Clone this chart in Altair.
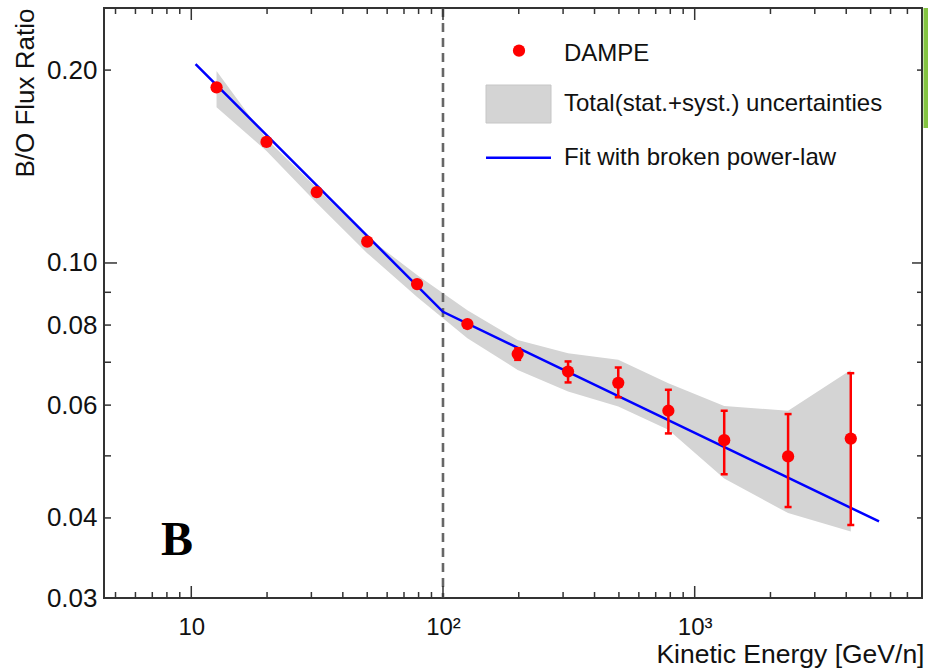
import altair as alt
import pandas as pd

# DAMPE B/O flux ratio measurements
energy = [12.6, 19.9, 31.5, 50.0, 78.9, 125, 198, 314, 497, 786, 1310, 2350, 4170]
ratio = [0.188, 0.1545, 0.129, 0.108, 0.0927, 0.0803, 0.0721, 0.0677, 0.065,
         0.0588, 0.0529, 0.0499, 0.0532]
err_low = [0.1865, 0.1532, 0.128, 0.1072, 0.0920, 0.0797, 0.0706, 0.0651, 0.0617,
           0.0542, 0.0468, 0.0416, 0.0390]
err_high = [0.1895, 0.1558, 0.130, 0.1088, 0.0934, 0.0809, 0.0736, 0.0702, 0.0687,
            0.0634, 0.0588, 0.0581, 0.0673]

# total (stat.+syst.) uncertainty band
band_low = [0.1750, 0.1495, 0.1240, 0.1036, 0.0885, 0.0763, 0.0681, 0.0630, 0.0597,
            0.0549, 0.0461, 0.0407, 0.0381]
band_high = [0.1993, 0.1561, 0.1309, 0.1098, 0.0958, 0.0844, 0.0758, 0.0723, 0.0706,
             0.0649, 0.0598, 0.0588, 0.0681]

# broken power-law fit
fit_energy = [10.4, 100, 5400]
fit_ratio = [0.2044, 0.0839, 0.0395]
break_energy = [100]

# axis ticks and labels
x_label_values = [10, 100, 1000]
x_major_ticks = [10, 100, 1000]
x_minor_ticks = [5, 6, 7, 8, 9, 20, 30, 40, 50, 60, 70, 80, 90,
                 200, 300, 400, 500, 600, 700, 800, 900,
                 2000, 3000, 4000, 5000, 6000, 7000]
y_label_values = [0.03, 0.04, 0.06, 0.08, 0.10, 0.20]
y_major_ticks = [0.10]
y_minor_ticks = [0.04, 0.05, 0.06, 0.07, 0.08, 0.09, 0.20]

legend_labels = ["DAMPE", "Total(stat.+syst.) uncertainties", "Fit with broken power-law"]
panel_label = "B"

W, H = 818, 590
FONT = "Liberation Sans"
TEXT = "#111111"
FRAME = "#333333"

data = pd.DataFrame({"energy": energy, "ratio": ratio, "lo": err_low, "hi": err_high,
                     "band_lo": band_low, "band_hi": band_high})
fit = pd.DataFrame({"energy": fit_energy, "ratio": fit_ratio})
brk = pd.DataFrame({"energy": break_energy})
one = pd.DataFrame({"k": [0]})

x_scale = alt.Scale(type="log", domain=[4.5, 8000], nice=False)
y_scale = alt.Scale(type="log", domain=[0.03, 0.25], nice=False, zero=False)

x_axis = alt.Axis(
    values=x_label_values,
    labelExpr="datum.value == 10 ? '10' : (datum.value == 100 ? '10²' : '10³')",
    ticks=False, domain=False, grid=False, labelFlush=False,
    labelFont=FONT, labelFontSize=24, labelColor=TEXT, labelPadding=17,
    title="Kinetic Energy [GeV/n]", titleFont=FONT, titleFontSize=26.5,
    titleFontWeight="normal", titleColor=TEXT,
    titleX=820, titleY=64, titleAlign="right", titleBaseline="alphabetic",
)
y_axis = alt.Axis(
    values=y_label_values, format=".2f",
    ticks=False, domain=False, grid=False, labelFlush=False,
    labelFont=FONT, labelFontSize=26, labelColor=TEXT, labelPadding=7,
    title="B/O Flux Ratio", titleFont=FONT, titleFontSize=26,
    titleFontWeight="normal", titleColor=TEXT,
    titleX=-79, titleY=0, titleAngle=270, titleAlign="right", titleBaseline="middle",
)


def X(field="energy"):
    return alt.X(f"{field}:Q", scale=x_scale, axis=x_axis)


def Y(field):
    return alt.Y(f"{field}:Q", scale=y_scale, axis=y_axis)


base = alt.Chart(data)

band = base.mark_area(color="#d4d4d4", opacity=1, interpolate="linear").encode(
    x=X(), y=Y("band_lo"), y2="band_hi:Q",
)

break_line = alt.Chart(brk).mark_rule(
    color="#666666", strokeWidth=2.6, strokeDash=[9, 6]
).encode(x=X(), y=alt.value(0), y2=alt.value(H))

fit_line = alt.Chart(fit).mark_line(color="#0000ff", strokeWidth=2.5).encode(
    x=X(), y=Y("ratio"),
)

err_bars = base.mark_rule(color="#ff0000", strokeWidth=2.5).encode(
    x=X(), y=Y("lo"), y2="hi:Q",
)
cap_lo = base.mark_tick(color="#ff0000", orient="horizontal", size=7, thickness=2.5,
                        opacity=1).encode(x=X(), y=Y("lo"))
cap_hi = base.mark_tick(color="#ff0000", orient="horizontal", size=7, thickness=2.5,
                        opacity=1).encode(x=X(), y=Y("hi"))
points = base.mark_circle(color="#ff0000", size=150, opacity=1).encode(
    x=X(), y=Y("ratio"),
)


# inward-pointing frame ticks
def x_ticks(values, length):
    df = pd.DataFrame({"energy": values})
    bottom = alt.Chart(df).mark_rule(color=FRAME, strokeWidth=1.5).encode(
        x=X(), y=alt.value(H), y2=alt.value(H - length),
    )
    top = alt.Chart(df).mark_rule(color=FRAME, strokeWidth=1.5).encode(
        x=X(), y=alt.value(0), y2=alt.value(length),
    )
    return [bottom, top]


def y_ticks(values, length, right_length):
    df = pd.DataFrame({"ratio": values})
    left = alt.Chart(df).mark_rule(color=FRAME, strokeWidth=1.5).encode(
        y=Y("ratio"), x=alt.value(0), x2=alt.value(length),
    )
    right = alt.Chart(df).mark_rule(color=FRAME, strokeWidth=1.5).encode(
        y=Y("ratio"), x=alt.value(W), x2=alt.value(W - right_length),
    )
    return [left, right]


ticks = (x_ticks(x_major_ticks, 12) + x_ticks(x_minor_ticks, 6)
         + y_ticks(y_major_ticks, 13, 10) + y_ticks(y_minor_ticks, 7, 5))

# legend
leg_dot = alt.Chart(one).mark_circle(color="#ff0000", size=150, opacity=1).encode(
    x=alt.value(415), y=alt.value(42.7))
leg_box = alt.Chart(one).mark_rect(fill="#d4d4d4", stroke="#c6c6c6", strokeWidth=1).encode(
    x=alt.value(382), x2=alt.value(447), y=alt.value(77), y2=alt.value(115))
leg_line = alt.Chart(one).mark_rule(color="#0000ff", strokeWidth=2.5).encode(
    x=alt.value(382), x2=alt.value(447), y=alt.value(149.7))
leg_texts = [
    alt.Chart(one).mark_text(align="left", baseline="alphabetic", font=FONT,
                             fontSize=24, color=TEXT).encode(
        x=alt.value(460), y=alt.value(yb), text=alt.value(label))
    for label, yb in zip(legend_labels, [52.7, 102.7, 157])
]

label_b = alt.Chart(one).mark_text(align="left", baseline="alphabetic",
                                   font="Liberation Serif", fontWeight="bold",
                                   fontSize=48, color="#000000").encode(
    x=alt.value(57), y=alt.value(547), text=alt.value(panel_label))

side_bar = alt.Chart(one).mark_rect(color="#84c341").encode(
    x=alt.value(819.5), x2=alt.value(824), y=alt.value(0), y2=alt.value(120))

chart = alt.layer(
    band, break_line, fit_line, err_bars, cap_lo, cap_hi, points,
    *ticks, leg_box, leg_line, leg_dot, *leg_texts, label_b, side_bar,
).properties(
    width=W, height=H,
    padding={"left": 104, "top": 8, "right": 6, "bottom": 70},
    autosize=alt.AutoSizeParams(type="none"),
    background="#ffffff",
).configure_view(
    stroke=FRAME, strokeWidth=2,
)

chart.save("out.html", embed_options={"renderer": "svg", "actions": False})
